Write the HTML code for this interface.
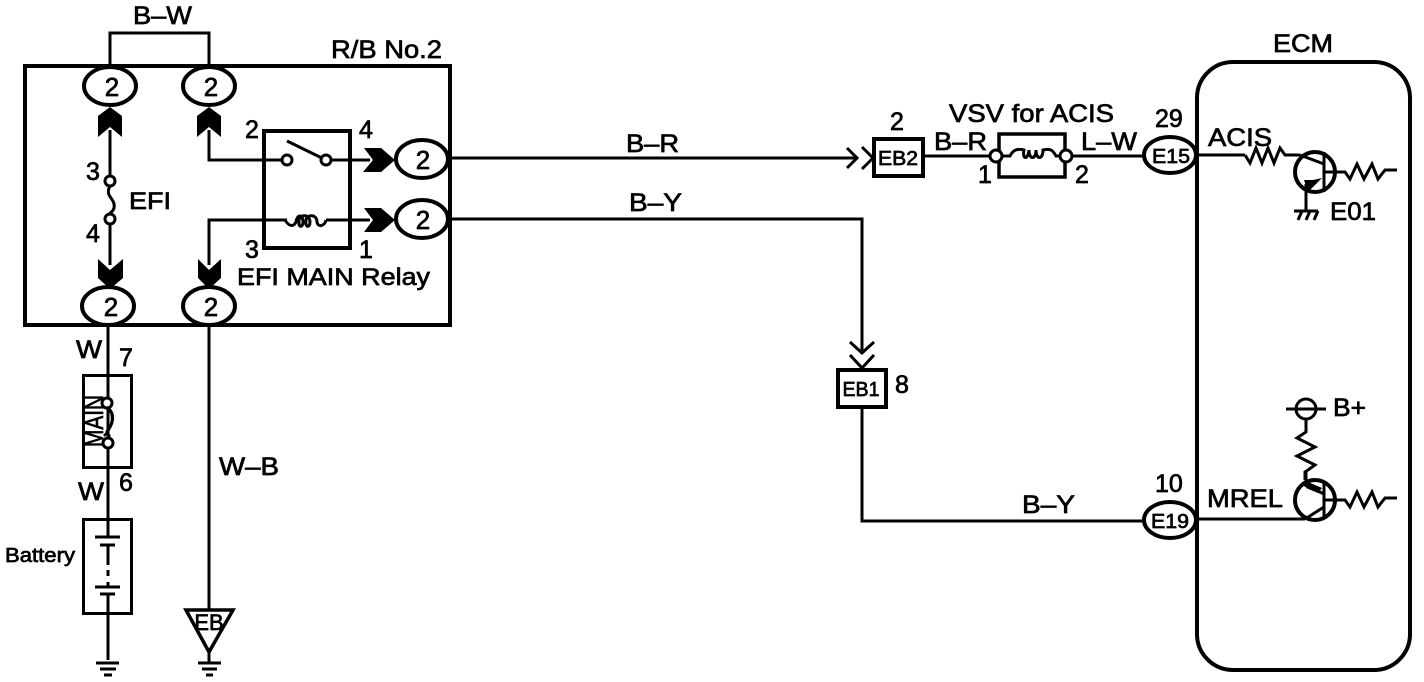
<!DOCTYPE html>
<html><head><meta charset="utf-8"><style>
html,body{margin:0;padding:0;background:#fff;width:1424px;height:682px;overflow:hidden}
svg{display:block}
text{font-family:"Liberation Sans",sans-serif;fill:#000;stroke:#000;stroke-width:.7}
.w{fill:none;stroke:#000;stroke-width:3}
.t{fill:none;stroke:#000;stroke-width:2.5}
.b{fill:none;stroke:#000;stroke-width:4}
.o{fill:#fff;stroke:#000;stroke-width:4}
.c{fill:#fff;stroke:#000;stroke-width:3}
.f{fill:#000;stroke:none}
</style></head><body>
<svg width="1424" height="682" viewBox="0 0 1424 682" xmlns="http://www.w3.org/2000/svg">
<!-- wires -->
<path class="w" d="M110 66V33H209V66"/>
<path class="w" d="M110 130V176M110 224V265"/>
<path class="w" d="M209 130V160H285M331 160H370"/>
<path class="w" d="M209 265V220H287M326 220H370"/>
<path class="w" d="M108 325V660M209 325V610M209 652V662"/>
<path class="w" d="M450 158H858"/>
<path class="w" d="M450 219H862V352"/>
<path class="w" d="M862 407V521H1142"/>
<path class="w" d="M924 156H991M1071 156H1145"/>
<path class="w" d="M1197 155H1245"/>
<path class="w" d="M1197 519H1305"/>
<!-- boxes -->
<rect class="b" x="25" y="66" width="425" height="259"/>
<rect class="b" x="264" y="131" width="86" height="117"/>
<rect class="b" x="1197" y="62" width="213" height="608" rx="36" ry="36"/>
<rect x="83.500" y="375.500" width="48" height="92" class="b" style="stroke-width:3"/>
<rect x="83.500" y="519.500" width="48" height="94" class="b" style="stroke-width:3"/>
<rect class="o" x="874" y="139" width="49" height="37"/>
<rect class="o" x="838" y="370" width="48" height="37"/>
<path class="b" style="stroke-width:3.500" d="M999 156V134H1065V156M999 156V177H1065V156"/>
<!-- ovals -->
<ellipse class="o" cx="110" cy="86" rx="26" ry="19"/>
<ellipse class="o" cx="209" cy="86" rx="26" ry="19"/>
<ellipse class="o" cx="108" cy="306" rx="26" ry="19"/>
<ellipse class="o" cx="209" cy="306" rx="26" ry="19"/>
<ellipse class="o" cx="422" cy="159" rx="26" ry="19"/>
<ellipse class="o" cx="422" cy="219" rx="26" ry="19"/>
<ellipse class="o" cx="1170" cy="155" rx="26" ry="18"/>
<ellipse class="o" cx="1170" cy="520" rx="26" ry="18"/>
<!-- black arrowheads -->
<path class="f" d="M110 107L122 116V137L110 127L98 137V116Z"/>
<path class="f" d="M209 107L221 116V137L209 127L197 137V116Z"/>
<path class="f" d="M110 289L98 278V259L110 270L123 259V278Z"/>
<path class="f" d="M209 289L198 278V259L209 270L221 259V278Z"/>
<path class="f" d="M395 160L381 172H363L373 160L364 148H381Z"/>
<path class="f" d="M395 220L381 232H364L373 220L364 208H381Z"/>
<!-- open chevrons -->
<path class="b" style="stroke-width:3" d="M847 148L857 158L847 168M862 147L873 158L862 169"/>
<path class="b" style="stroke-width:3" d="M850 342L862 353L874 342M850 355L862 368L874 355"/>
<!-- fuse -->
<path class="w" d="M110 186C104 197 116 198 114 208C113 212 110 212 110 214"/>
<circle class="c" cx="110" cy="181" r="5"/><circle class="c" cx="110" cy="219" r="5"/>
<!-- switch -->
<path class="w" d="M287 141L326 160"/>
<circle class="c" cx="287" cy="160" r="5"/><circle class="c" cx="326" cy="160" r="5"/>
<path class="w" d="M285 220C290 228 294 226 296 222C297 214 303 214 303 222C303 228 298 228 299 220C300 214 310 214 310 222C310 228 305 228 306 220C307 214 317 214 317 222C318 228 325 226 326 220"/>
<!-- main fuse -->
<path class="w" d="M108 408C116 415 112 425 108 430C104 434 112 434 108 438"/>
<path class="t" d="M110 410C115 420 110 430 104 436"/>
<circle class="c" cx="107" cy="403" r="5"/><circle class="c" cx="108" cy="443" r="5"/>
<!-- battery -->
<rect x="103" y="538" width="10" height="65" fill="#fff" stroke="none"/>
<path class="w" d="M108 544V565M108 570V576M108 582V587M108 593V614"/>
<path class="b" style="stroke-width:3" d="M95 537H120M100 545H115M95 587H120M100 594H115"/>
<!-- grounds -->
<path class="b" style="stroke-width:3" d="M96 663H119M100 669H116M104 675H112"/>
<path class="b" style="stroke-width:3" d="M198 663H221M202 669H217M206 675H213"/>
<path class="b" style="stroke-width:3.500" d="M186 610H233L209 652Z"/>
<!-- VSV -->
<circle class="c" cx="996" cy="156" r="6"/><circle class="c" cx="1066" cy="156" r="6"/>
<path class="w" d="M1002 156H1010C1014 148 1020 149 1024 150C1022 160 1028 160 1029 150C1029 160 1036 160 1036 150C1036 160 1043 160 1043 150C1048 149 1052 148 1056 156H1060"/>
<!-- resistors -->
<path class="w" d="M1245 155L1250 163L1256 148L1262 163L1268 148L1274 163L1280 148L1285 155H1300"/>
<path class="w" d="M1337 172H1345L1350 179L1357 164L1364 179L1372 164L1378 179L1385 170H1397"/>
<path class="w" d="M1337 500H1345L1350 507L1357 492L1364 507L1372 492L1378 507L1385 498H1397"/>
<path class="w" d="M1306 419V432L1297 438L1315 447L1297 456L1315 465L1305 472V480"/>
<!-- transistors -->
<circle class="b" cx="1315" cy="172" r="20"/>
<path class="w" d="M1300 155L1324 164M1324 152V192M1324 172H1337M1306 184V210"/>
<path class="f" d="M1304 180L1313 180L1322 178L1308 192Z"/>
<path class="b" style="stroke-width:3" d="M1294 211H1318M1298 220L1302 211M1306 220L1310 211M1314 220L1318 211"/>
<circle class="b" cx="1315" cy="500" r="20"/>
<path class="w" d="M1303 484L1324 494M1324 482V518M1324 500H1337M1305 519L1324 507M1306 472V483"/>
<path class="f" d="M1308 482L1322 488L1318 493L1306 488Z"/>
<circle class="b" style="stroke-width:3" cx="1306" cy="409" r="10"/>
<path class="w" d="M1286 409H1326"/>
<!-- text -->
<g font-size="25">
<text x="133" y="24" textLength="59" lengthAdjust="spacingAndGlyphs">B–W</text>
<text x="331" y="58" textLength="111" lengthAdjust="spacingAndGlyphs">R/B No.2</text>
<text x="129" y="209" font-size="24" textLength="42" lengthAdjust="spacingAndGlyphs">EFI</text>
<text x="237" y="285" font-size="24" textLength="193" lengthAdjust="spacingAndGlyphs">EFI MAIN Relay</text>
<text x="86" y="180">3</text><text x="86" y="242">4</text>
<text x="245" y="138">2</text><text x="359" y="138">4</text>
<text x="245" y="258">3</text><text x="359" y="258">1</text>
<text x="76" y="358" textLength="26" lengthAdjust="spacingAndGlyphs">W</text>
<text x="119" y="366">7</text>
<text x="78" y="500" textLength="26" lengthAdjust="spacingAndGlyphs">W</text>
<text x="119" y="491">6</text>
<text x="219" y="475" textLength="60" lengthAdjust="spacingAndGlyphs">W–B</text>
<text x="626" y="152" textLength="53" lengthAdjust="spacingAndGlyphs">B–R</text>
<text x="629" y="211" textLength="53" lengthAdjust="spacingAndGlyphs">B–Y</text>
<text x="1022" y="513" textLength="53" lengthAdjust="spacingAndGlyphs">B–Y</text>
<text x="934" y="150" textLength="53" lengthAdjust="spacingAndGlyphs">B–R</text>
<text x="1081" y="150" textLength="56" lengthAdjust="spacingAndGlyphs">L–W</text>
<text x="949" y="122" textLength="165" lengthAdjust="spacingAndGlyphs">VSV for ACIS</text>
<text x="890" y="130">2</text>
<text x="978" y="183">1</text><text x="1075" y="183">2</text>
<text x="895" y="393">8</text>
<text x="1155" y="127">29</text>
<text x="1155" y="492">10</text>
<text x="1273" y="52" textLength="60" lengthAdjust="spacingAndGlyphs">ECM</text>
<text x="1208" y="146" textLength="64" lengthAdjust="spacingAndGlyphs">ACIS</text>
<text x="1330" y="220" textLength="46" lengthAdjust="spacingAndGlyphs">E01</text>
<text x="1333" y="416" textLength="33" lengthAdjust="spacingAndGlyphs">B+</text>
<text x="1207" y="507" textLength="76" lengthAdjust="spacingAndGlyphs">MREL</text>
</g>
<g font-size="26" text-anchor="middle">
<text x="112" y="96">2</text><text x="211" y="96">2</text><text x="111" y="316">2</text><text x="211" y="316">2</text>
<text x="423" y="169">2</text><text x="423" y="229">2</text>
</g>
<g font-size="20" text-anchor="middle">
<text x="898" y="165" textLength="40" lengthAdjust="spacingAndGlyphs">EB2</text>
<text x="861" y="396" textLength="37" lengthAdjust="spacingAndGlyphs">EB1</text>
<text x="1171" y="163" textLength="38" lengthAdjust="spacingAndGlyphs">E15</text>
<text x="1170" y="528" textLength="38" lengthAdjust="spacingAndGlyphs">E19</text>
<text x="209" y="630" font-size="22">EB</text>
</g>
<text font-size="26" transform="translate(103 447) rotate(-90)" textLength="52" lengthAdjust="spacingAndGlyphs">MAIN</text>
<text x="5" y="562" font-size="20" textLength="70" lengthAdjust="spacingAndGlyphs">Battery</text>
</svg>
</body></html>
